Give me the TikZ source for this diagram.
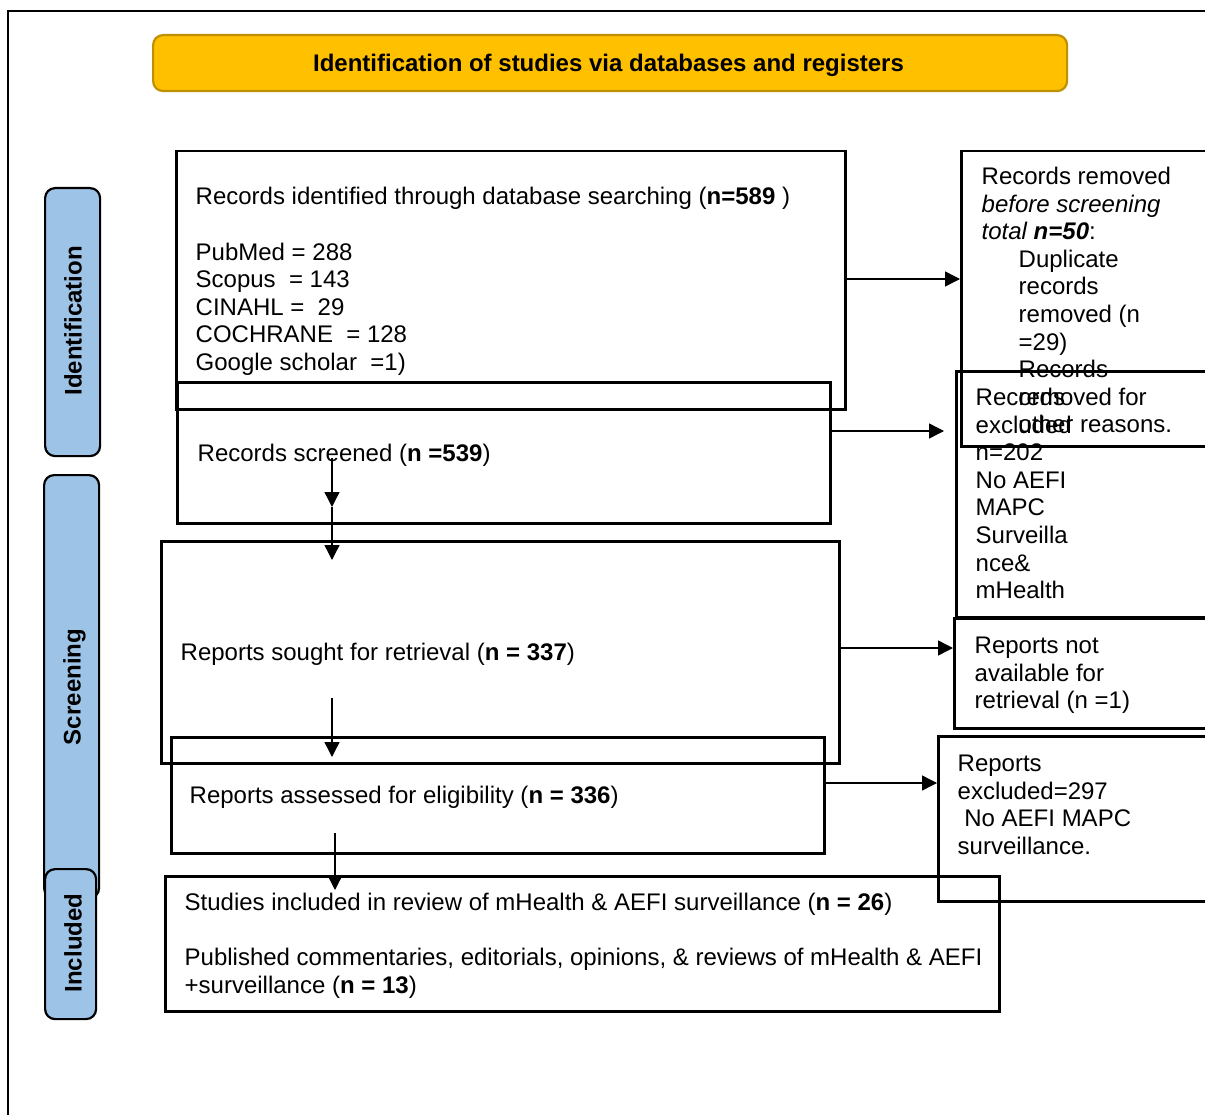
\documentclass[tikz,border=0pt]{standalone}
\usepackage{fontspec}
\setmainfont{Liberation Sans}
\usetikzlibrary{arrows.meta}
\definecolor{phaseblue}{HTML}{9DC3E6}
\definecolor{bannerfill}{HTML}{FFC000}
\definecolor{bannerline}{HTML}{BF9000}
% stacked left-aligned lines with a fixed baseline distance
\newcommand{\stk}[1]{\vtop{\baselineskip=27.6pt\lineskiplimit=-100pt\halign{##\hfil\cr#1\crcr}}}
\begin{document}
\begin{tikzpicture}[x=1pt,y=-1pt,
  every node/.style={font=\fontsize{24}{27.6}\selectfont},
  box/.style={draw, line width=2.5pt, rectangle, inner sep=0pt, anchor=north west},
  lbl/.style={anchor=base west, inner sep=0pt},
  arr/.style={line width=1.4pt, -{Triangle[length=15pt,width=15pt]}},
  phase/.style={draw, line width=2.2pt, rounded corners=10pt, fill=phaseblue, inner sep=0pt, anchor=north west},
  phasetxt/.style={rotate=90, anchor=base, inner sep=0pt, font=\fontsize{24}{27.6}\selectfont\bfseries},
  banner/.style={draw=bannerline, line width=2.2pt, rounded corners=10pt, fill=bannerfill, inner sep=0pt, anchor=north west}]
\useasboundingbox (0,0) rectangle (1205,1115);
\clip (0,0) rectangle (1205,1115);

% outer frame
\draw[line width=2pt] (8,1130) -- (8,11) -- (1220,11);

% banner
\node[banner, minimum width=914pt, minimum height=56pt] (ban) at (152,34) {};
\node[anchor=base, inner sep=0pt, font=\fontsize{24}{27.6}\selectfont\bfseries] (bantxt) at (608.5,71.5)
  {Identification of studies via databases and registers};

% phase labels
\node[phase, minimum width=55pt, minimum height=268pt] (ph1) at (44,187) {};
\node[phase, minimum width=55pt, minimum height=423pt] (ph2) at (43,474) {};
\node[phase, minimum width=51pt, minimum height=150pt] (ph3) at (44,868) {};
\node[phasetxt] (ph1t) at (81.5,321) {Identification};
\node[phasetxt] (ph2t) at (80.5,687) {Screening};
\node[phasetxt] (ph3t) at (81.5,943) {Included};

% main column
\node[box, minimum width=669pt, minimum height=258pt] (id)  at (175,150) {};
\node[box, minimum width=653pt, minimum height=141pt] (scr) at (176,381) {};
\node[box, minimum width=678pt, minimum height=222pt] (ret) at (160,540) {};
\node[box, minimum width=653pt, minimum height=116pt] (ass) at (170,736) {};
\node[box, minimum width=834pt, minimum height=135pt] (inc) at (164,875) {};

% side column
\node[box, minimum width=260pt, minimum height=295pt] (rem) at (960,150) {};
\node[box, minimum width=265pt, minimum height=246pt] (exc) at (955,370) {};
\node[box, minimum width=267pt, minimum height=110pt] (na)  at (953,617) {};
\node[box, minimum width=283pt, minimum height=165pt] (rex) at (937,735) {};

% texts
\node[lbl] (idtxt) at (195.5,205) {\stk{Records identified through database searching (\textbf{n=589} )\cr
  \cr PubMed = 288\cr Scopus ~= 143\cr CINAHL = ~29\cr COCHRANE ~= 128\cr Google scholar ~=1)}};
\node[lbl] (scrtxt) at (197.5,461.5) {Records screened (\textbf{n =539})};
\node[lbl] (rettxt) at (180.5,660.5) {Reports sought for retrieval (\textbf{n = 337})};
\node[lbl] (asstxt) at (189.5,803.5) {Reports assessed for eligibility (\textbf{n = 336})};
\node[lbl] (inctxt) at (184.5,910.5) {\stk{Studies included in review of mHealth \& AEFI surveillance (\textbf{n = 26})\cr
  \cr Published commentaries, editorials, opinions, \& reviews of mHealth \& AEFI\cr +surveillance (\textbf{n = 13})}};

\node[lbl] (remtxt) at (981.5,184.5) {\stk{Records removed\cr \textit{before screening}\cr \textit{total \textbf{n=50}}:\cr
  \hspace*{37pt}Duplicate\cr \hspace*{37pt}records\cr \hspace*{37pt}removed (n\cr \hspace*{37pt}=29)\cr
  \hspace*{37pt}Records\cr \hspace*{37pt}removed for\cr \hspace*{37pt}other reasons.}};
\node[lbl] (exctxt) at (975.5,405.5) {\stk{Records\cr excluded\cr n=202\cr No AEFI\cr MAPC\cr Surveilla\cr nce\&\cr mHealth}};
\node[lbl] (natxt) at (974.5,653.5) {\stk{Reports not\cr available for\cr retrieval (n =1)}};
\node[lbl] (rextxt) at (957.5,771.5) {\stk{Reports\cr excluded=297\cr \hspace*{6.7pt}No AEFI MAPC\cr surveillance.}};

% connectors
\coordinate (a2e) at (944,431);
\coordinate (v1s) at (332,458);
\coordinate (v1e) at (332,507);
\coordinate (v2e) at (332,560);
\coordinate (v3s) at (332,698);
\coordinate (v3e) at (332,757);
\coordinate (v4s) at (335,833);
\coordinate (v4e) at (335,890);

\draw[arr] (id.east |- 0,279) -- (rem.west |- 0,279);
\draw[arr] (scr.east |- a2e) -- (a2e);
\draw[arr] ([xshift=-2pt]ret.east |- 0,648) -- (na.west |- 0,648);
\draw[arr] (ass.east |- 0,783) -- (rex.west |- 0,783);
\draw[arr] (v1s) -- (v1e);
\draw[arr] (v1e) -- (v2e);
\draw[arr] (v3s) -- (v3e);
\draw[arr] (v4s) -- (v4e);
\end{tikzpicture}
\end{document}
